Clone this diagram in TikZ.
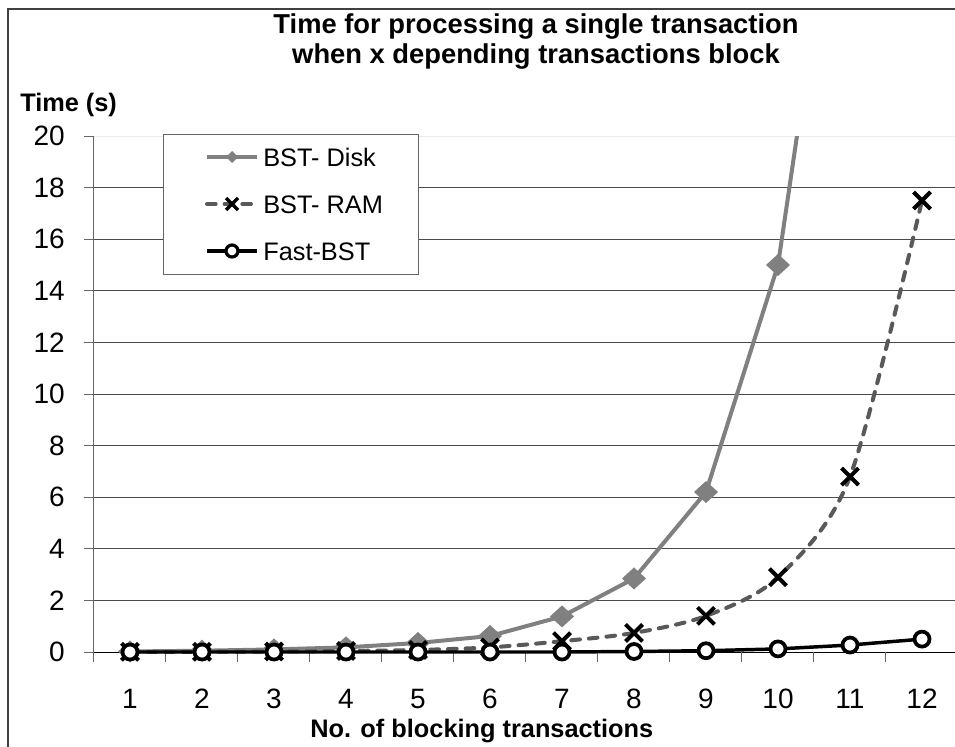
\documentclass[tikz,border=0pt]{standalone}
\usepackage{fontspec}
\setmainfont{Liberation Sans}
\definecolor{diskc}{HTML}{808080}
\definecolor{ramc}{HTML}{595959}
\definecolor{gridc}{HTML}{4A4A4A}
\begin{document}
\begin{tikzpicture}[x=0.75pt,y=-0.75pt,
  gridline/.style={draw=gridc,line width=0.75pt},
  axisline/.style={draw=black!60,line width=0.75pt},
  ticklbl/.style={inner sep=0pt,font=\fontsize{21}{21}\selectfont},
  titlelbl/.style={inner sep=0pt,font=\fontsize{20.5}{20.5}\selectfont\bfseries,anchor=base},
  axtitle/.style={inner sep=0pt,font=\fontsize{19}{19}\selectfont\bfseries},
  legtext/.style={inner sep=0pt,font=\fontsize{19}{19}\selectfont,anchor=base west},
  diskline/.style={draw=diskc,line width=3pt,line join=round},
  ramline/.style={draw=ramc,line width=3pt,dash pattern=on 6.5pt off 6.75pt,line cap=round},
  fastline/.style={draw=black,line width=2.6pt,line join=round},
  crossmark/.style={draw=black,line width=3pt},
  circmark/.style={draw=black,fill=white,line width=2.8pt}]
\useasboundingbox (0,0) rectangle (955,746);
\fill[white] (0,0) rectangle (955,746);
% outer chart border
\draw[draw=black!75,line width=1.3pt] (8,760) -- (8,9) -- (970,9);
% plot area top
\draw[draw=black!8,line width=0.75pt] (93,136) -- (957,136);
% gridlines
\foreach \v in {2,4,...,18} \draw[gridline] (93,{652-25.8*\v}) -- (957,{652-25.8*\v});
% y axis
\draw[axisline] (93,136) -- (93,652);
\foreach \v in {0,2,...,20} {
  \draw[axisline] (84,{652-25.8*\v}) -- (93,{652-25.8*\v});
  \node[ticklbl,anchor=east] (ylab\v) at (65,{652-25.8*\v}) {\v};
}
% x axis
\draw[draw=black,line width=0.75pt] (93,652) -- (957,652);
\foreach \k in {0,...,12} \draw[axisline] ({93+72*\k},652) -- ({93+72*\k},662);
\foreach \k in {1,...,12} \node[ticklbl] (xlab\k) at ({58+72*\k},699) {\k};
% titles
\node[titlelbl] (title1) at (536,33) {Time for processing a single transaction};
\node[titlelbl] (title2) at (536,63) {when x depending transactions block};
\node[axtitle,anchor=base west] (ytitle) at (20,111) {Time (s)};
\node[axtitle,anchor=base west] (xtitle) at (310,737) {No. of blocking transactions};
% BST- Disk
\begin{scope}
\clip (0,136) rectangle (955,746);
\draw[diskline] (130,{652-25.8*0.02}) -- (202,{652-25.8*0.05}) -- (274,{652-25.8*0.1}) -- (346,{652-25.8*0.18})
  -- (418,{652-25.8*0.35}) -- (490,{652-25.8*0.62}) -- (562,{652-25.8*1.38}) -- (634,{652-25.8*2.85})
  -- (706,{652-25.8*6.2}) -- (778,{652-25.8*15}) -- (850,{652-25.8*34});
\end{scope}
\foreach \i/\v in {1/0.02,2/0.05,3/0.1,4/0.18,5/0.35,6/0.62,7/1.38,8/2.85,9/6.2,10/15} {
  \fill[diskc,shift={({58+72*\i},{652-25.8*\v})}] (0,-11) -- (12,0) -- (0,11) -- (-12,0) -- cycle;
}
% BST- RAM
\draw[ramline] plot[smooth,tension=0.5] coordinates {(130,{652-25.8*0.01}) (202,{652-25.8*0.01}) (274,{652-25.8*0.02}) (346,{652-25.8*0.04})
  (418,{652-25.8*0.08}) (490,{652-25.8*0.18}) (562,{652-25.8*0.42}) (634,{652-25.8*0.74})
  (706,{652-25.8*1.4}) (778,{652-25.8*2.9}) (850,{652-25.8*6.8}) (922,{652-25.8*17.5})};
\foreach \i/\v in {1/0.01,2/0.01,3/0.02,4/0.04,5/0.08,6/0.18,7/0.42,8/0.74,9/1.4,10/2.9,11/6.8,12/17.5} {
  \draw[crossmark,shift={({58+72*\i},{652-25.8*\v})}] (-8.5,-8.5) -- (8.5,8.5) (-8.5,8.5) -- (8.5,-8.5);
}
% Fast-BST
\draw[fastline] (130,652) -- (202,652) -- (274,652) -- (346,652) -- (418,652) -- (490,652) -- (562,652)
  -- (634,{652-25.8*0.02}) -- (706,{652-25.8*0.05}) -- (778,{652-25.8*0.12}) -- (850,{652-25.8*0.27}) -- (922,{652-25.8*0.5});
\foreach \i/\v in {1/0,2/0,3/0,4/0,5/0,6/0,7/0,8/0.02,9/0.05,10/0.12,11/0.27,12/0.5} {
  \draw[circmark] ({58+72*\i},{652-25.8*\v}) circle[radius=7.5];
}
% legend
\draw[draw=black!60,fill=white,line width=0.75pt] (163,134) rectangle (418,274);
\draw[diskline] (207,157) -- (257,157);
\fill[diskc] (232,151) -- (238,157) -- (232,163) -- (226,157) -- cycle;
\node[legtext] (leg1) at (263,166) {BST- Disk};
\draw[ramline] (207,204) -- (257,204);
\draw[crossmark,line width=2.6pt] (226,198) -- (238,210) (226,210) -- (238,198);
\node[legtext] (leg2) at (263,213) {BST- RAM};
\draw[fastline] (207,251) -- (257,251);
\draw[circmark,line width=2.4pt] (232,251) circle[radius=6];
\node[legtext] (leg3) at (263,260) {Fast-BST};
\end{tikzpicture}
\end{document}
